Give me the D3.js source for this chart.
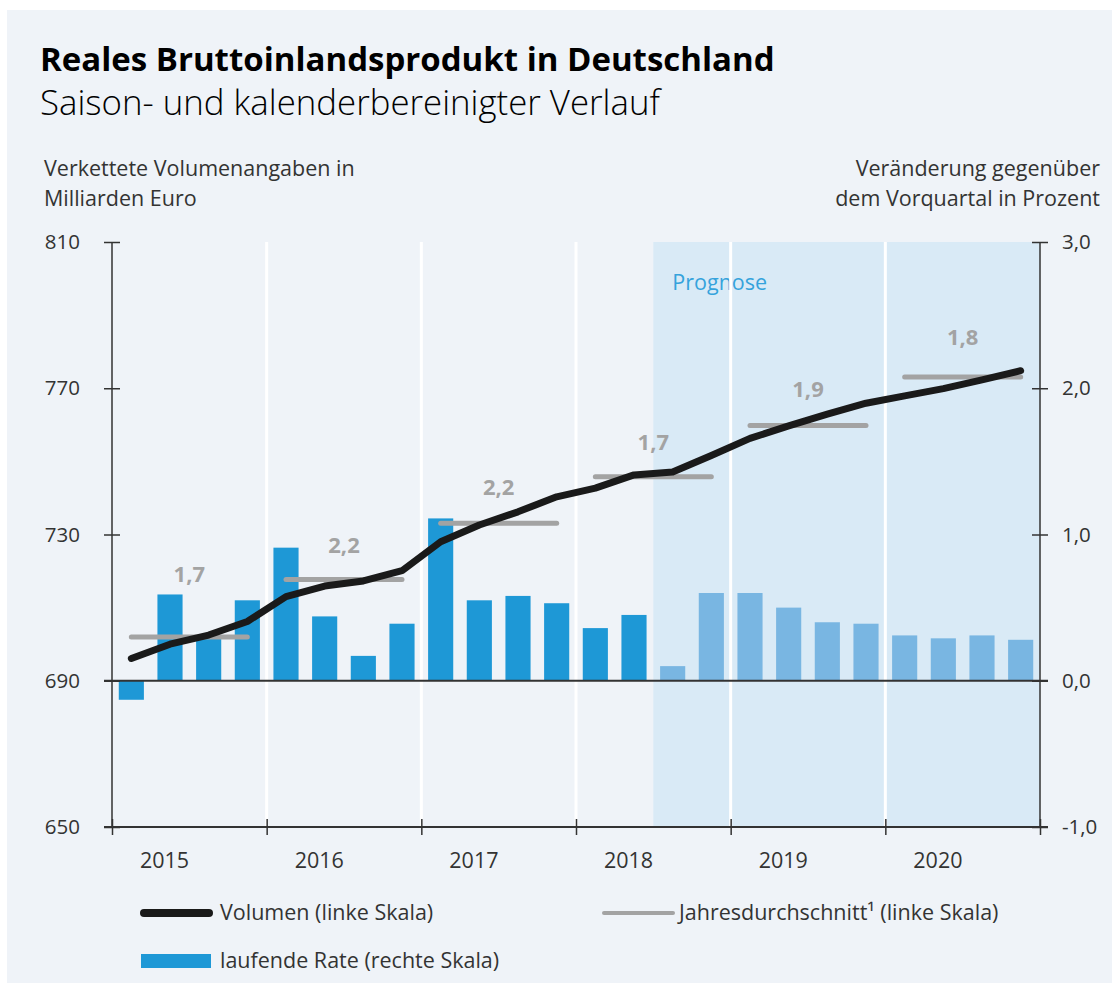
<!DOCTYPE html>
<html>
<head>
<meta charset="utf-8">
<script src="https://cdn.jsdelivr.net/npm/d3@7"></script>
<style>
  html, body { margin: 0; padding: 0; background: #ffffff; }
  svg { display: block; }
  text { font-family: "Open Sans", "Noto Sans", sans-serif; }
</style>
</head>
<body>
<svg id="chart" width="1112" height="983"></svg>
<script>
// ---------- DATA ----------
const years = ["2015", "2016", "2017", "2018", "2019", "2020"];
const quarters = years.flatMap(y => ["Q1", "Q2", "Q3", "Q4"].map(q => y + q));
// Volumen (linke Skala), Mrd. Euro
const volume = [696.1, 700.0, 702.5, 706.2, 713.0, 715.9, 717.3, 720.1,
                728.0, 732.6, 736.2, 740.3, 742.7, 746.3, 747.1, 751.6,
                756.3, 759.7, 762.9, 765.9, 767.9, 769.9, 772.3, 774.8];
// laufende Rate (rechte Skala), %
const rate = [-0.13, 0.59, 0.30, 0.55, 0.91, 0.44, 0.17, 0.39,
              1.11, 0.55, 0.58, 0.53, 0.36, 0.45, 0.10, 0.60,
              0.60, 0.50, 0.40, 0.39, 0.31, 0.29, 0.31, 0.28];
const forecastStart = 14; // index of first forecast quarter (2018Q3)
// Jahresdurchschnitt (linke Skala)
const annualAvg = [702.0, 717.7, 733.1, 745.8, 759.8, 773.1];
const annualGrowth = ["1,7", "2,2", "2,2", "1,7", "1,9", "1,8"];
const leftTicks = [650, 690, 730, 770, 810];
const rightTicks = [-1, 0, 1, 2, 3];

// ---------- LAYOUT ----------
const svg = d3.select("#chart");
const L = 112, R = 1040, T = 242, B = 827;
const col = {
  bg: "#eff3f8", shade: "#d9eaf6", bar: "#1e98d6", barF: "#79b6e2",
  line: "#1a1a1a", avg: "#a3a3a3", axis: "#333333", text: "#333333", prog: "#35a3dc"
};
const fs = 21.5;

svg.append("rect").attr("x", 7).attr("y", 10).attr("width", 1105).attr("height", 973).attr("fill", col.bg);

const x = d3.scaleBand().domain(quarters).range([L, R]).paddingInner(0.35).paddingOuter(0.175);
const step = x.step();
const bound = q => x(q) - step * x.paddingInner() / 2; // left boundary of quarter slot
const cx = q => x(q) + x.bandwidth() / 2;
const yL = d3.scaleLinear().domain([650, 810]).range([B, T]);
const yR = d3.scaleLinear().domain([-1, 3]).range([B, T]);

// Title
svg.append("text").attr("x", 40).attr("y", 71).attr("font-size", 33).attr("font-weight", 700)
  .attr("fill", "#000").text("Reales Bruttoinlandsprodukt in Deutschland");
svg.append("text").attr("x", 40).attr("y", 115).attr("font-size", 34.8).attr("font-weight", 300)
  .attr("fill", "#000").text("Saison- und kalenderbereinigter Verlauf");

// Axis titles
const at = svg.append("g").attr("font-size", fs).attr("fill", col.text);
at.append("text").attr("x", 44).attr("y", 176).text("Verkettete Volumenangaben in");
at.append("text").attr("x", 44).attr("y", 206).text("Milliarden Euro");
at.append("text").attr("x", 1100).attr("y", 176).attr("text-anchor", "end").text("Veränderung gegenüber");
at.append("text").attr("x", 1100).attr("y", 206).attr("text-anchor", "end").text("dem Vorquartal in Prozent");

// Forecast shading
svg.append("rect").attr("x", bound(quarters[forecastStart])).attr("y", T)
  .attr("width", R - bound(quarters[forecastStart])).attr("height", B - T).attr("fill", col.shade);
svg.append("text").attr("x", bound(quarters[forecastStart]) + 19).attr("y", 290)
  .attr("font-size", fs).attr("fill", col.prog).text("Prognose");

// White year separators
svg.append("g").selectAll("line").data(years.slice(1)).join("line")
  .attr("x1", d => bound(d + "Q1")).attr("x2", d => bound(d + "Q1"))
  .attr("y1", T).attr("y2", B).attr("stroke", "#fff").attr("stroke-width", 3);

// Bars
svg.append("g").selectAll("rect").data(rate).join("rect")
  .attr("x", (d, i) => x(quarters[i]))
  .attr("width", x.bandwidth())
  .attr("y", d => yR(Math.max(0, d)))
  .attr("height", d => Math.abs(yR(d) - yR(0)))
  .attr("fill", (d, i) => i >= forecastStart ? col.barF : col.bar);

// Zero line
svg.append("line").attr("x1", L - 8).attr("x2", R + 8).attr("y1", yR(0)).attr("y2", yR(0))
  .attr("stroke", col.axis).attr("stroke-width", 2);

// Annual averages
svg.append("g").selectAll("line").data(annualAvg).join("line")
  .attr("x1", (d, i) => cx(years[i] + "Q1")).attr("x2", (d, i) => cx(years[i] + "Q4"))
  .attr("y1", d => yL(d)).attr("y2", d => yL(d))
  .attr("stroke", col.avg).attr("stroke-width", 5).attr("stroke-linecap", "round");
const labelLift = [55, 26, 28, 27, 29, 32];
svg.append("g").selectAll("text").data(annualGrowth).join("text")
  .attr("x", (d, i) => (cx(years[i] + "Q2") + cx(years[i] + "Q3")) / 2)
  .attr("y", (d, i) => yL(annualAvg[i]) - labelLift[i])
  .attr("text-anchor", "middle").attr("font-size", 22).attr("font-weight", 700)
  .attr("fill", col.avg).text(d => d);

// Volume line
svg.append("path").datum(volume)
  .attr("d", d3.line().x((d, i) => cx(quarters[i])).y(d => yL(d)))
  .attr("fill", "none").attr("stroke", col.line).attr("stroke-width", 7)
  .attr("stroke-linejoin", "round").attr("stroke-linecap", "round");

// Axes
const fmtR = v => d3.format(".1f")(v).replace(".", ",").replace("−", "-");
const gL = svg.append("g").attr("transform", `translate(${L},0)`)
  .call(d3.axisLeft(yL).tickValues(leftTicks).tickSize(8).tickPadding(24).tickFormat(d3.format("d")));
const gR = svg.append("g").attr("transform", `translate(${R},0)`)
  .call(d3.axisRight(yR).tickValues(rightTicks).tickSize(8).tickPadding(14).tickFormat(fmtR));
[gL, gR].forEach(g => {
  g.select(".domain").attr("d", `M0,${T}V${B}`).attr("stroke", col.axis).attr("stroke-width", 1.5);
  g.selectAll(".tick line").attr("x1", -8).attr("x2", 8).attr("stroke", col.axis).attr("stroke-width", 1.5);
  g.selectAll(".tick text").attr("font-size", 20.5).attr("fill", col.text)
    .attr("font-family", "'Open Sans', 'Noto Sans', sans-serif");
});

// Bottom axis
const xb = d3.scaleLinear().domain([0, years.length]).range([L, R]);
const gB = svg.append("g").attr("transform", `translate(0,${B})`)
  .call(d3.axisBottom(xb).tickValues(d3.range(years.length + 1)).tickSize(8).tickFormat(""));
gB.select(".domain").attr("d", `M${L - 8},0H${R + 8}`).attr("stroke", col.axis).attr("stroke-width", 2);
gB.selectAll(".tick line").attr("y1", -8).attr("y2", 8).attr("stroke", col.axis).attr("stroke-width", 1.5);
svg.append("g").selectAll("text").data(years).join("text")
  .attr("x", (d, i) => xb(i + 0.34)).attr("y", 868).attr("text-anchor", "middle")
  .attr("font-size", fs).attr("fill", col.text).text(d => d);

// Legend
const lg = svg.append("g").attr("font-size", fs).attr("fill", col.text);
lg.append("line").attr("x1", 144).attr("x2", 209).attr("y1", 913).attr("y2", 913)
  .attr("stroke", col.line).attr("stroke-width", 8).attr("stroke-linecap", "round");
lg.append("text").attr("x", 220).attr("y", 920).text("Volumen (linke Skala)");
lg.append("line").attr("x1", 604).attr("x2", 673).attr("y1", 913).attr("y2", 913)
  .attr("stroke", col.avg).attr("stroke-width", 4).attr("stroke-linecap", "round");
lg.append("text").attr("x", 679).attr("y", 920).text("Jahresdurchschnitt¹ (linke Skala)");
lg.append("rect").attr("x", 141).attr("y", 954).attr("width", 70).attr("height", 14).attr("fill", col.bar);
lg.append("text").attr("x", 220).attr("y", 968).text("laufende Rate (rechte Skala)");
</script>
</body>
</html>
